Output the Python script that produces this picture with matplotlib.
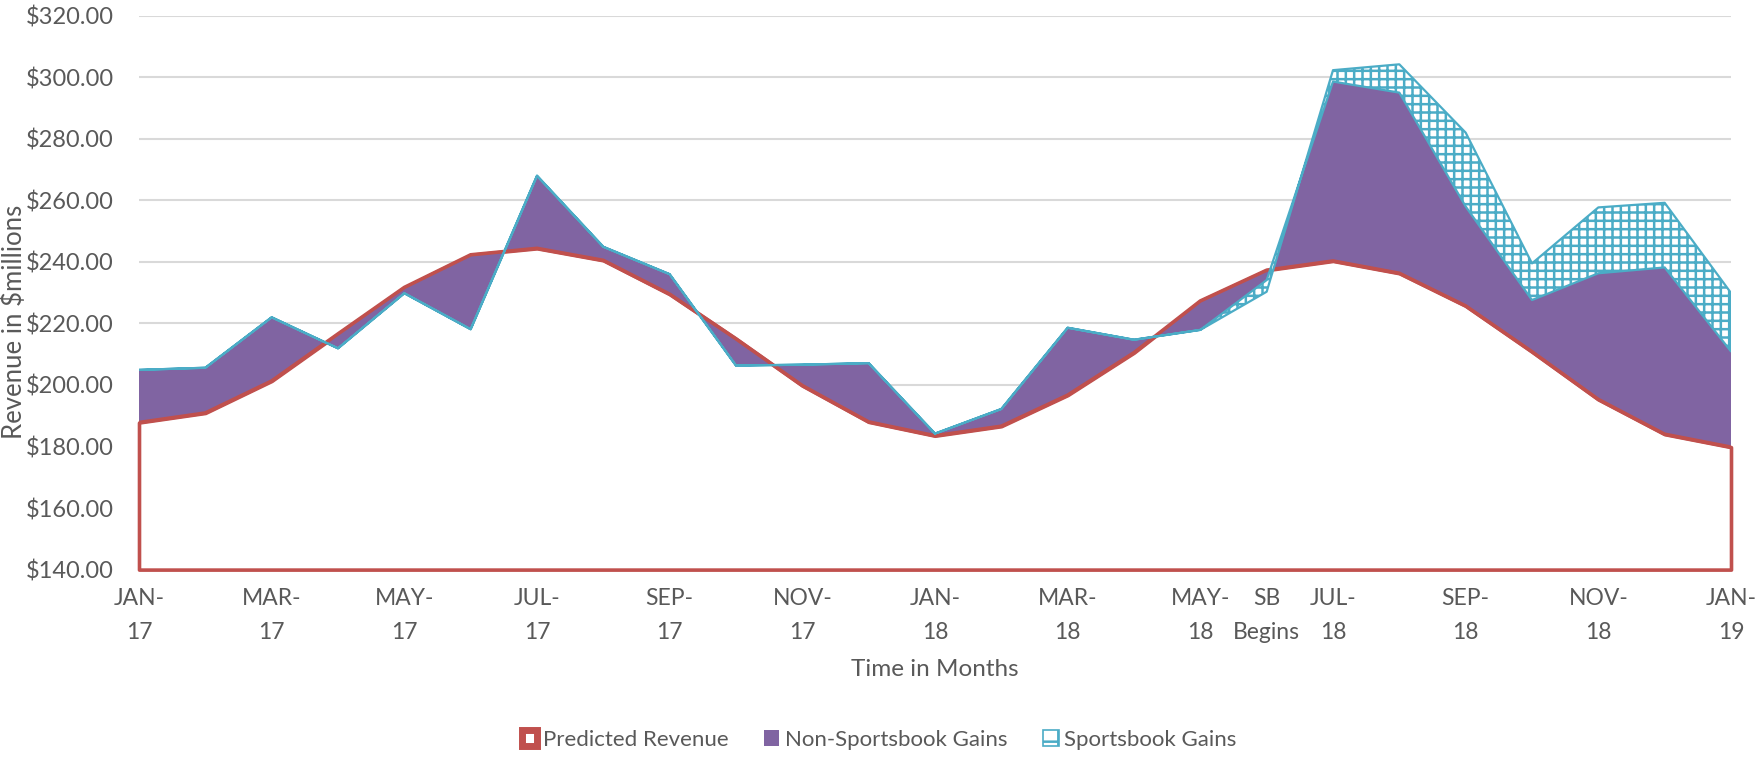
import numpy as np
import matplotlib
matplotlib.use("Agg")
import matplotlib.pyplot as plt
from matplotlib.patches import Patch

plt.rcParams['font.family'] = ['Lato', 'DejaVu Sans']
plt.rcParams['hatch.linewidth'] = 1.8

# monthly values, JAN-17 .. JAN-19 ($ millions)
months = ['JAN-17', 'FEB-17', 'MAR-17', 'APR-17', 'MAY-17', 'JUN-17', 'JUL-17',
          'AUG-17', 'SEP-17', 'OCT-17', 'NOV-17', 'DEC-17', 'JAN-18', 'FEB-18',
          'MAR-18', 'APR-18', 'MAY-18', 'JUN-18', 'JUL-18', 'AUG-18', 'SEP-18',
          'OCT-18', 'NOV-18', 'DEC-18', 'JAN-19']
predicted = [187.8, 190.9, 201.3, 216.6, 231.7, 242.3, 244.4, 240.5, 229.5,
             215.0, 199.8, 188.0, 183.5, 186.6, 196.7, 210.5, 227.3, 237.3,
             240.3, 236.3, 225.7, 210.8, 195.3, 184.0, 179.8]
non_sportsbook = [204.9, 205.6, 222.0, 211.9, 229.8, 218.1, 268.0, 244.9, 236.0,
                  206.3, 206.6, 207.1, 184.2, 192.2, 218.6, 214.7, 217.9, 234.1,
                  298.6, 295.0, 258.0, 227.6, 236.3, 238.2, 210.9]
with_sportsbook = [204.9, 205.6, 222.0, 211.9, 229.8, 218.1, 268.0, 244.9, 236.0,
                   206.3, 206.6, 207.1, 184.2, 192.2, 218.6, 214.7, 217.9, 230.3,
                   302.3, 304.2, 282.0, 239.5, 257.7, 259.2, 229.9]

tick_pos = [0, 2, 4, 6, 8, 10, 12, 14, 16, 17, 18, 20, 22, 24]
tick_labels = ['JAN-\n17', 'MAR-\n17', 'MAY-\n17', 'JUL-\n17', 'SEP-\n17', 'NOV-\n17',
               'JAN-\n18', 'MAR-\n18', 'MAY-\n18', 'SB\nBegins', 'JUL-\n18',
               'SEP-\n18', 'NOV-\n18', 'JAN-\n19']

RED = '#C0504D'
PURPLE = '#8064A2'
BLUE = '#4BACC6'
TXT = '#595959'
YMIN, YMAX = 140, 320

W, H = 1758, 757
fig = plt.figure(figsize=(W / 100, H / 100), dpi=100)
left, right, top, bottom = 139, 1731, 15.7, 569.6
ax = fig.add_axes([left / W, 1 - bottom / H, (right - left) / W, (bottom - top) / H])

x = np.arange(len(months))
ax.fill_between(x, YMIN, predicted, facecolor='white', edgecolor=RED, lw=2.6,
                zorder=2, clip_on=False)
ax.fill_between(x, predicted, non_sportsbook, facecolor=PURPLE, lw=0, zorder=3)
ax.plot(x, predicted, color=RED, lw=2.6, zorder=3.5, solid_joinstyle='miter')
ax.fill_between(x, non_sportsbook, with_sportsbook, facecolor='white',
                edgecolor=BLUE, hatch='++', lw=1.6, zorder=4)

ax.set_xlim(0, len(months) - 1)
ax.set_ylim(YMIN, YMAX)
ax.set_yticks(np.arange(YMIN, YMAX + 1, 20))
ax.set_yticklabels(['$%.2f' % v for v in np.arange(YMIN, YMAX + 1, 20)])
ax.set_xticks(tick_pos)
ax.set_xticklabels(tick_labels, linespacing=1.8)
ax.tick_params(length=0, colors=TXT)
ax.tick_params(axis='y', pad=18, labelsize=17)
ax.tick_params(axis='x', pad=13, labelsize=16.5)
ax.yaxis.grid(True, color='#D9D9D9', lw=1.5)
ax.set_axisbelow(True)
for s in ax.spines.values():
    s.set_visible(False)

fig.text(14 / W, 1 - 322 / H, 'Revenue in $millions', rotation=90,
         ha='center', va='center', color=TXT, fontsize=18.5)
fig.text(935 / W, 1 - 669 / H, 'Time in Months', ha='center', va='center',
         color=TXT, fontsize=17.5)

handles = [Patch(facecolor='white', edgecolor=RED, lw=5, label='Predicted Revenue'),
           Patch(facecolor=PURPLE, label='Non-Sportsbook Gains'),
           Patch(facecolor='white', edgecolor=BLUE, hatch='+', lw=1.2,
                 label='Sportsbook Gains')]
fig.legend(handles=handles, loc='center', bbox_to_anchor=(879 / W, 1 - 740 / H),
           ncol=3, frameon=False, handlelength=0.7, handleheight=0.7,
           handletextpad=0.25, columnspacing=1.6, fontsize=16, labelcolor=TXT)

fig.savefig('out.png', dpi=100)
